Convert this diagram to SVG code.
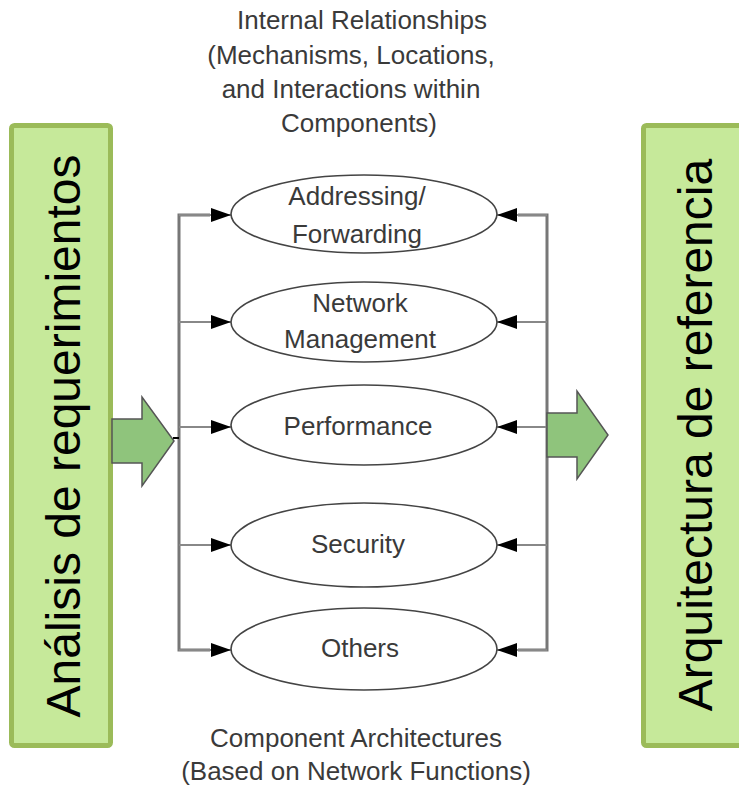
<svg xmlns="http://www.w3.org/2000/svg" width="739" height="785" viewBox="0 0 739 785">
<defs>
<style>
.lbl{font-family:"Liberation Sans",Arial,sans-serif;font-size:26px;fill:#3a3a3a;text-anchor:middle}
.big{font-family:"Liberation Sans",Arial,sans-serif;font-size:48px;fill:#000;text-anchor:middle}
.box{fill:#c6e99a;stroke:#9bbb59;stroke-width:5}
.garrow{fill:#8fc47c;stroke:#555;stroke-width:1.5;stroke-linejoin:miter}
.ell{fill:#fff;stroke:#444;stroke-width:1.6}
.bus{fill:none;stroke:#777;stroke-width:3}
.conn{stroke:#888;stroke-width:2}
</style>
<marker id="ah" viewBox="0 0 20 14" refX="20" refY="7" markerWidth="20" markerHeight="14" markerUnits="userSpaceOnUse" orient="auto">
<path d="M0,0 L20,7 L0,14 Z" fill="#000"/>
</marker>
</defs>

<g id="box-left">
<rect class="box" x="11.5" y="125.5" width="99" height="620" rx="3"/>
<text class="big" transform="translate(80,436) rotate(-90)" dy="0">Análisis de requerimientos</text>
</g>
<g id="box-right">
<rect class="box" x="643.5" y="125.5" width="110" height="620" rx="3"/>
<text class="big" transform="translate(712,435) rotate(-90)">Arquitectura de referencia</text>
</g>

<g id="title-top">
<text class="lbl" x="362" y="29">Internal Relationships</text>
<text class="lbl" x="351" y="64">(Mechanisms, Locations,</text>
<text class="lbl" x="351" y="98">and Interactions within</text>
<text class="lbl" x="359" y="132">Components)</text>
</g>
<g id="title-bottom">
<text class="lbl" x="356" y="747">Component Architectures</text>
<text class="lbl" x="356" y="780">(Based on Network Functions)</text>
</g>

<g id="connectors">
<polyline class="bus" points="210,215 179,215 179,650 210,650"/>
<polyline class="bus" points="518,215 547,215 547,650 518,650"/>
<line class="conn" x1="179" y1="215" x2="231" y2="215" marker-end="url(#ah)"/>
<line class="conn" x1="179" y1="322" x2="231" y2="322" marker-end="url(#ah)"/>
<line class="conn" x1="179" y1="427" x2="231" y2="427" marker-end="url(#ah)"/>
<line class="conn" x1="179" y1="545" x2="231" y2="545" marker-end="url(#ah)"/>
<line class="conn" x1="179" y1="650" x2="231" y2="650" marker-end="url(#ah)"/>
<line class="conn" x1="547" y1="215" x2="497" y2="215" marker-end="url(#ah)"/>
<line class="conn" x1="547" y1="322" x2="497" y2="322" marker-end="url(#ah)"/>
<line class="conn" x1="547" y1="427" x2="497" y2="427" marker-end="url(#ah)"/>
<line class="conn" x1="547" y1="545" x2="497" y2="545" marker-end="url(#ah)"/>
<line class="conn" x1="547" y1="650" x2="497" y2="650" marker-end="url(#ah)"/>
<line x1="173" y1="438" x2="179" y2="438" stroke="#000" stroke-width="2"/>
</g>

<g id="arrow-in">
<polygon class="garrow" points="112,419 142,419 142,397 174,441 142,486 142,463 112,463"/>
</g>
<g id="arrow-out">
<polygon class="garrow" points="547,413 577,413 577,391 608,435 577,479 577,457 547,457"/>
</g>

<g id="node-addressing">
<ellipse class="ell" cx="364" cy="214" rx="133" ry="39"/>
<text class="lbl" x="357" y="205">Addressing/</text>
<text class="lbl" x="357" y="243">Forwarding</text>
</g>
<g id="node-management">
<ellipse class="ell" cx="364" cy="322" rx="133" ry="40"/>
<text class="lbl" x="360" y="312">Network</text>
<text class="lbl" x="360" y="348">Management</text>
</g>
<g id="node-performance">
<ellipse class="ell" cx="364" cy="425" rx="133" ry="40"/>
<text class="lbl" x="358" y="435">Performance</text>
</g>
<g id="node-security">
<ellipse class="ell" cx="364" cy="545" rx="133" ry="42"/>
<text class="lbl" x="358" y="553">Security</text>
</g>
<g id="node-others">
<ellipse class="ell" cx="364" cy="649" rx="133" ry="41"/>
<text class="lbl" x="360" y="657">Others</text>
</g>
</svg>
